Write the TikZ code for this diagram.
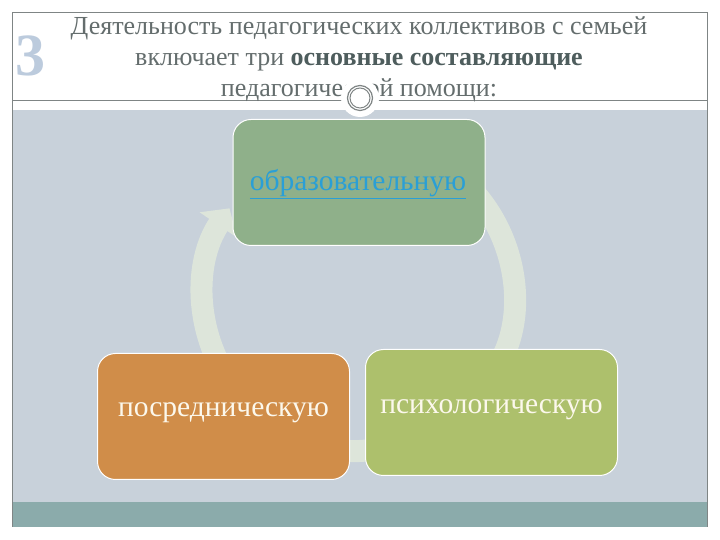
\documentclass[tikz,border=0pt]{standalone}
\usepackage{fontspec}
\setmainfont{Liberation Serif}
\usetikzlibrary{arrows.meta,calc}
\definecolor{panel}{HTML}{C8D1DA}
\definecolor{teal}{HTML}{8BABAB}
\definecolor{frame}{HTML}{7F8585}
\definecolor{topbox}{HTML}{8FB08A}
\definecolor{leftbox}{HTML}{D08D49}
\definecolor{rightbox}{HTML}{ADC06C}
\definecolor{arrowc}{HTML}{DDE5DA}
\definecolor{titlec}{HTML}{646D6D}
\definecolor{titleb}{HTML}{4E5D5D}
\definecolor{linkc}{HTML}{2A9FD6}
\definecolor{textc}{HTML}{FCF8EC}
\definecolor{threec}{HTML}{BCCBDD}
\tikzset{
  cardbox/.style={draw=white, line width=1pt, rounded corners=18pt, minimum width=252pt, minimum height=126pt, inner sep=0pt},
  cyclearrow/.style={draw=arrowc, line width=22pt, -{Triangle[width=44pt,length=20pt]}},
  cardtext/.style={font=\fontsize{29.5}{34}\selectfont},
}
\begin{document}
\begin{tikzpicture}[x=1pt,y=1pt]
\useasboundingbox (0,0) rectangle (720,540);
\fill[white] (0,0) rectangle (720,540);
% panel and strip
\fill[panel] (12,38) rectangle (707,430);
\fill[teal] (12,13) rectangle (707,38);
% frame
\draw[frame, line width=0.9pt] (12,13) -- (12,528) -- (707,528) -- (707,13);
\draw[frame, line width=0.9pt] (12,440) -- (707,440);
% cycle arrows
\coordinate (C) at (358,245);
\draw[cyclearrow] ($(C)+(215:155)$) arc[start angle=215, end angle=146, radius=155];
\draw[cyclearrow] ($(C)+(45:155)$) arc[start angle=45, end angle=-35, radius=155];
\draw[cyclearrow] ($(C)+(-70:155)$) arc[start angle=-70, end angle=-105, radius=155];
% boxes
\node[cardbox, fill=topbox] (edu) at (359,357.5) {};
\node[cardbox, fill=leftbox] (med) at (223.5,123.5) {};
\node[cardbox, fill=rightbox] (psy) at (491.5,127.5) {};
\node[cardtext, text=linkc] (edut) at (358,356) {\underline{образовательную}};
\node[cardtext, text=textc] (medt) at (223.5,127) {посредническую};
\node[cardtext, text=textc] (psyt) at (491.5,130) {психологическую};
% title
\node[font=\fontsize{26}{31}\selectfont, text=titlec, align=center] (title) at (359,481)
  {Деятельность педагогических коллективов с семьей\\
   включает три \textbf{\color{titleb}основные составляющие}\\
   педагогической помощи:};
% ornament
\node[circle, fill=white, minimum size=38pt, inner sep=0pt] (orn) at (360,442) {};
\draw[frame, line width=1.2pt] (orn.center) circle[radius=12.5pt];
\draw[frame, line width=1pt] (orn.center) circle[radius=10pt];
% number 3
\node[font=\fontsize{60}{60}\selectfont\bfseries, text=threec] (three) at (30,484) {3};
\end{tikzpicture}
\end{document}
